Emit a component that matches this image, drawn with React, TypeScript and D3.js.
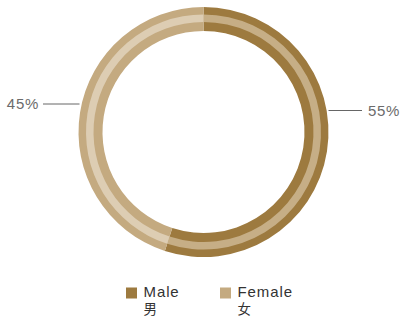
import React from "react";
import * as d3 from "d3";

const categories = ["Male", "Female"];
const categoryCn = ["男", "女"];
const shares = [55, 45];
const outerColors = ["#9d7a3f", "#c4aa80"];
const bandColors = ["#c6ae86", "#ddcdb3"];

const W = 401;
const H = 320;
const cx = 203.5;
const cy = 132;
const R = 125;
const r = 101;
const bandOuter = 117.5;
const bandInner = 110;

export default function App() {
  const pie = d3.pie<number>().sort(null).value((d) => d);
  const arcs = pie(shares);
  const ring = d3.arc<d3.PieArcDatum<number>>().innerRadius(r).outerRadius(R);
  const band = d3.arc<d3.PieArcDatum<number>>().innerRadius(bandInner).outerRadius(bandOuter);

  const font = "'Liberation Sans', Arial, sans-serif";

  // leader lines: right side for the first slice, left for the second
  const labels = [
    { x1: cx + R, x2: 362, y: 110.5, tx: 368, anchor: "start" },
    { x1: cx - R + 1, x2: 43, y: 104, tx: 39, anchor: "end" },
  ];

  return (
    <svg width={W} height={H} style={{ position: "absolute", left: 0, top: 0 }}>
      <g transform={`translate(${cx},${cy})`}>
        {arcs.map((a, i) => (
          <g key={i}>
            <path d={ring(a) || ""} fill={outerColors[i]} />
            <path d={band(a) || ""} fill={bandColors[i]} />
          </g>
        ))}
      </g>
      {labels.map((l, i) => (
        <g key={i}>
          <line x1={l.x1} x2={l.x2} y1={l.y} y2={l.y} stroke="#666" strokeWidth={1} />
          <text
            x={l.tx}
            y={l.y}
            dy="0.36em"
            textAnchor={l.anchor}
            fontFamily={font}
            fontSize={15}
            letterSpacing={0.7}
            fill="#6b6b6b"
          >
            {shares[i]}%
          </text>
        </g>
      ))}
      {categories.map((c, i) => {
        const x0 = 126 + i * 94;
        return (
          <g key={c}>
            <rect x={x0} y={287.5} width={11} height={11} fill={outerColors[i]} />
            <text
              x={x0 + 17.5}
              y={296.5}
              fontFamily={font}
              fontSize={15}
              letterSpacing={0.9}
              fill="#333"
            >
              {c}
            </text>
            <text
              x={x0 + 17.5}
              y={314}
              fontFamily="'Noto Sans CJK SC', sans-serif"
              fontSize={13.5}
              fill="#333"
            >
              {categoryCn[i]}
            </text>
          </g>
        );
      })}
    </svg>
  );
}
